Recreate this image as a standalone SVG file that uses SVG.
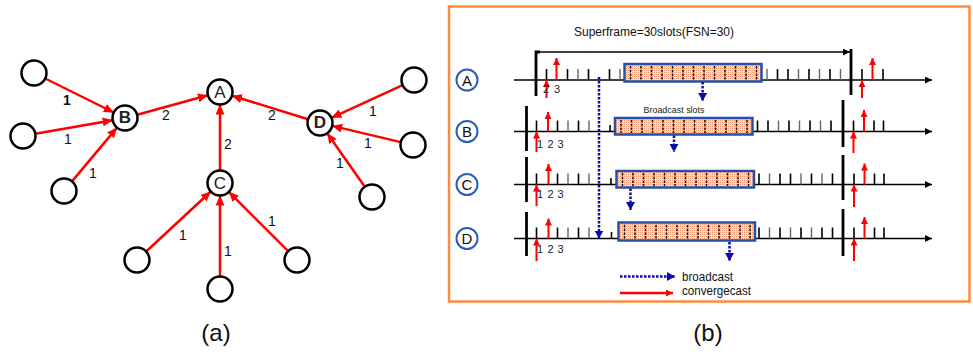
<svg xmlns="http://www.w3.org/2000/svg" width="973" height="355" viewBox="0 0 973 355">
<style>
text{font-family:"Liberation Sans",Arial,sans-serif;}
.nd{fill:#fff;stroke:#000;stroke-width:2.5;}
.ed{stroke:#f00;stroke-width:2.5;fill:none;marker-end:url(#ra);}
.el{font-size:14px;fill:#111;text-anchor:middle;}
.nl{font-size:17px;fill:#222;text-anchor:middle;}
.ax{stroke:#000;stroke-width:1.6;fill:none;marker-end:url(#ka);}
.tk{stroke:#000;stroke-width:1.6;}
.tg{stroke:#666;stroke-width:1.4;}
.thk{stroke:#000;stroke-width:2.8;}
.bt{stroke:#111;stroke-width:1.5;stroke-dasharray:2.5 1.2;}
.box{fill:url(#hatch);stroke:#2450a8;stroke-width:2.5;}
.rd{stroke:#f00;stroke-width:2;fill:none;marker-end:url(#rs);}
.bl{stroke:#0a0aa8;stroke-width:2.5;stroke-dasharray:2.5 1.5;fill:none;marker-end:url(#ba);}
.cl{fill:#fff;stroke:#2a5cb8;stroke-width:2;}
.cll{font-size:15px;fill:#111;text-anchor:middle;}
.sl{font-size:11px;fill:#223;text-anchor:middle;}
</style>
<defs>
<marker id="ra" markerUnits="userSpaceOnUse" markerWidth="11" markerHeight="9" refX="10" refY="4.5" orient="auto"><path d="M0,0 L10,4.5 L0,9 Z" fill="#f00"/></marker>
<marker id="rs" markerUnits="userSpaceOnUse" markerWidth="8" markerHeight="7" refX="7" refY="3.5" orient="auto"><path d="M0,0 L7,3.5 L0,7 Z" fill="#f00"/></marker>
<marker id="ba" markerUnits="userSpaceOnUse" markerWidth="9" markerHeight="9" refX="8" refY="4.5" orient="auto"><path d="M0,0 L8,4.5 L0,9 Z" fill="#0a0aa8"/></marker>
<marker id="ka" markerUnits="userSpaceOnUse" markerWidth="8" markerHeight="7" refX="7" refY="3.5" orient="auto"><path d="M0,0 L7,3.5 L0,7 Z" fill="#000"/></marker>
<pattern id="hatch" patternUnits="userSpaceOnUse" width="2" height="2"><rect width="2" height="2" fill="#fbdccb"/><rect width="1" height="1" fill="#ec9a76"/></pattern>
</defs>

<!-- (a) tree -->
<g id="connectors">
<line class="ed" x1="45.2" y1="78.5" x2="113.8" y2="112.5"/>
<line class="ed" x1="35.3" y1="133.8" x2="112.7" y2="120.2"/>
<line class="ed" x1="72" y1="181.4" x2="117" y2="127.6"/>
<line class="ed" x1="137.1" y1="114.7" x2="207.9" y2="95.3"/>
<line class="ed" x1="220" y1="170.5" x2="220" y2="104.5"/>
<line class="ed" x1="308.1" y1="119.3" x2="231.9" y2="95.7"/>
<line class="ed" x1="402.6" y1="85.2" x2="331.4" y2="117.8"/>
<line class="ed" x1="400.8" y1="142.1" x2="332.2" y2="125.9"/>
<line class="ed" x1="364.8" y1="186.8" x2="327.2" y2="133.2"/>
<line class="ed" x1="146.2" y1="251.5" x2="210.8" y2="191.5"/>
<line class="ed" x1="220" y1="276.5" x2="220" y2="195.5"/>
<line class="ed" x1="288.2" y1="251.2" x2="228.8" y2="191.8"/>
<text class="el" x="67" y="105" font-weight="bold">1</text>
<text class="el" x="68" y="144">1</text>
<text class="el" x="93" y="178">1</text>
<text class="el" x="166" y="120">2</text>
<text class="el" x="228" y="149">2</text>
<text class="el" x="272" y="120">2</text>
<text class="el" x="373" y="116">1</text>
<text class="el" x="368" y="148">1</text>
<text class="el" x="340" y="168">1</text>
<text class="el" x="183" y="240">1</text>
<text class="el" x="228" y="256">1</text>
<text class="el" x="272" y="226">1</text>
</g>
<g id="nodeA"><circle class="nd" cx="220" cy="92" r="12.5"/><text class="nl" x="220" y="98">A</text></g>
<g id="nodeB"><circle class="nd" cx="125" cy="118" r="12.5"/><text class="nl" x="125" y="123" font-size="13" font-weight="bold">B</text></g>
<g id="nodeC"><circle class="nd" cx="220" cy="183" r="12.5"/><text class="nl" x="220" y="189">C</text></g>
<g id="nodeD"><circle class="nd" cx="320" cy="123" r="12.5"/><text class="nl" x="320" y="128" font-size="14" font-weight="bold">D</text></g>
<g id="leafB1"><circle class="nd" cx="34" cy="73" r="12.5"/></g>
<g id="leafB2"><circle class="nd" cx="23" cy="136" r="12.5"/></g>
<g id="leafB3"><circle class="nd" cx="64" cy="191" r="12.5"/></g>
<g id="leafD1"><circle class="nd" cx="414" cy="80" r="12.5"/></g>
<g id="leafD2"><circle class="nd" cx="413" cy="145" r="12.5"/></g>
<g id="leafD3"><circle class="nd" cx="372" cy="197" r="12.5"/></g>
<g id="leafC1"><circle class="nd" cx="137" cy="260" r="12.5"/></g>
<g id="leafC2"><circle class="nd" cx="220" cy="289" r="12.5"/></g>
<g id="leafC3"><circle class="nd" cx="297" cy="260" r="12.5"/></g>
<text x="216" y="341" font-size="24" text-anchor="middle" fill="#111">(a)</text>

<!-- (b) timeline -->
<rect x="449" y="6.5" width="520.5" height="295" fill="none" stroke="#ff8a3d" stroke-width="2.5"/>
<text x="654" y="36" font-size="12" text-anchor="middle" textLength="160" lengthAdjust="spacingAndGlyphs" fill="#111">Superframe=30slots(FSN=30)</text>
<path d="M536,96 V52 H540" class="thk" fill="none"/>
<line x1="540" y1="52" x2="850" y2="52" stroke="#000" stroke-width="1.3" marker-end="url(#ka)"/>

<g id="rowA">
<circle class="cl" cx="467" cy="80" r="10.5"/><text class="cll" x="467" y="85.5">A</text>
<line class="ax" x1="514" y1="80" x2="932" y2="80"/>
<g>
<line class="tk" x1="546.5" y1="69" x2="546.5" y2="80"/><line class="tk" x1="567.5" y1="69" x2="567.5" y2="80"/><line class="tg" x1="578" y1="69" x2="578" y2="80"/><line class="tk" x1="588.5" y1="69" x2="588.5" y2="80"/><line class="tk" x1="609.5" y1="69" x2="609.5" y2="80"/><line class="tg" x1="620" y1="69" x2="620" y2="80"/>
<line class="tg" x1="767" y1="69" x2="767" y2="80"/><line class="tk" x1="777.5" y1="69" x2="777.5" y2="80"/><line class="tk" x1="788" y1="69" x2="788" y2="80"/><line class="tg" x1="798.5" y1="69" x2="798.5" y2="80"/><line class="tk" x1="809" y1="69" x2="809" y2="80"/><line class="tg" x1="819.5" y1="69" x2="819.5" y2="80"/><line class="tk" x1="830" y1="69" x2="830" y2="80"/><line class="tg" x1="840.5" y1="69" x2="840.5" y2="80"/>
<line class="tk" x1="862" y1="69" x2="862" y2="80"/><line class="tk" x1="883" y1="69" x2="883" y2="80"/>
</g>
<rect class="box" x="624.5" y="64" width="137" height="17.5"/>
<g>
<line class="bt" x1="630.5" y1="66" x2="630.5" y2="80"/><line class="bt" x1="641" y1="66" x2="641" y2="80"/><line class="bt" x1="651.5" y1="66" x2="651.5" y2="80"/><line class="bt" x1="662" y1="66" x2="662" y2="80"/><line class="bt" x1="672.5" y1="66" x2="672.5" y2="80"/><line class="bt" x1="683" y1="66" x2="683" y2="80"/><line class="bt" x1="693.5" y1="66" x2="693.5" y2="80"/><line class="bt" x1="704" y1="66" x2="704" y2="80"/><line class="bt" x1="714.5" y1="66" x2="714.5" y2="80"/><line class="bt" x1="725" y1="66" x2="725" y2="80"/><line class="bt" x1="735.5" y1="66" x2="735.5" y2="80"/><line class="bt" x1="746" y1="66" x2="746" y2="80"/><line class="bt" x1="756.5" y1="66" x2="756.5" y2="80"/>
</g>
<line class="thk" x1="851" y1="49" x2="851" y2="95"/>
<line class="rd" x1="546.5" y1="98" x2="546.5" y2="80"/>
<line class="rd" x1="556.5" y1="80" x2="556.5" y2="58"/>
<line class="rd" x1="862" y1="98" x2="862" y2="80"/>
<line class="rd" x1="872.5" y1="80" x2="872.5" y2="58"/>
<text class="sl" x="546" y="92.5">2</text><text class="sl" x="557" y="92.5">3</text>
<line class="bl" x1="702.6" y1="82" x2="702.6" y2="101"/>
</g>

<text x="674" y="113" font-size="9.5" text-anchor="middle" textLength="61" lengthAdjust="spacingAndGlyphs" fill="#222">Broadcast slots</text>

<g id="rowB">
<circle class="cl" cx="467" cy="131.5" r="10.5"/><text class="cll" x="467" y="137">B</text>
<line class="ax" x1="514" y1="131.5" x2="932" y2="131.5"/>
<g>
<line class="tk" x1="536.5" y1="120.5" x2="536.5" y2="131.5"/><line class="tk" x1="557.5" y1="120.5" x2="557.5" y2="131.5"/><line class="tg" x1="568" y1="120.5" x2="568" y2="131.5"/><line class="tk" x1="578.5" y1="120.5" x2="578.5" y2="131.5"/><line class="tg" x1="589" y1="120.5" x2="589" y2="131.5"/><line class="tk" x1="610" y1="125" x2="610" y2="131.5"/>
<line class="tk" x1="757.5" y1="120.5" x2="757.5" y2="131.5"/><line class="tk" x1="768" y1="120.5" x2="768" y2="131.5"/><line class="tg" x1="778.5" y1="120.5" x2="778.5" y2="131.5"/><line class="tk" x1="789" y1="120.5" x2="789" y2="131.5"/><line class="tg" x1="799.5" y1="120.5" x2="799.5" y2="131.5"/><line class="tk" x1="810" y1="120.5" x2="810" y2="131.5"/><line class="tg" x1="820.5" y1="120.5" x2="820.5" y2="131.5"/><line class="tk" x1="831" y1="120.5" x2="831" y2="131.5"/>
<line class="tk" x1="853.5" y1="120.5" x2="853.5" y2="131.5"/><line class="tk" x1="874" y1="120.5" x2="874" y2="131.5"/><line class="tk" x1="883.5" y1="120.5" x2="883.5" y2="131.5"/>
</g>
<rect class="box" x="615" y="118" width="137.5" height="16.5"/>
<g>
<line class="bt" x1="621" y1="120" x2="621" y2="133"/><line class="bt" x1="631.5" y1="120" x2="631.5" y2="133"/><line class="bt" x1="642" y1="120" x2="642" y2="133"/><line class="bt" x1="652.5" y1="120" x2="652.5" y2="133"/><line class="bt" x1="663" y1="120" x2="663" y2="133"/><line class="bt" x1="673.5" y1="120" x2="673.5" y2="133"/><line class="bt" x1="684" y1="120" x2="684" y2="133"/><line class="bt" x1="694.5" y1="120" x2="694.5" y2="133"/><line class="bt" x1="705" y1="120" x2="705" y2="133"/><line class="bt" x1="715.5" y1="120" x2="715.5" y2="133"/><line class="bt" x1="726" y1="120" x2="726" y2="133"/><line class="bt" x1="736.5" y1="120" x2="736.5" y2="133"/><line class="bt" x1="747" y1="120" x2="747" y2="133"/>
</g>
<line class="thk" x1="526.5" y1="106" x2="526.5" y2="151"/>
<line class="thk" x1="843" y1="100" x2="843" y2="147"/>
<line class="rd" x1="536.5" y1="152" x2="536.5" y2="131.5"/>
<line class="rd" x1="548" y1="131.5" x2="548" y2="112"/>
<line class="rd" x1="853.5" y1="153" x2="853.5" y2="131.5"/>
<line class="rd" x1="864" y1="131.5" x2="864" y2="110"/>
<text class="sl" x="540" y="147.5">1</text><text class="sl" x="550.5" y="147.5">2</text><text class="sl" x="560.5" y="147.5">3</text>
<line class="bl" x1="674" y1="135.5" x2="674" y2="152"/>
</g>

<g id="rowC">
<circle class="cl" cx="467" cy="184.5" r="10.5"/><text class="cll" x="467" y="190">C</text>
<line class="ax" x1="514" y1="184.5" x2="932" y2="184.5"/>
<g>
<line class="tk" x1="536.5" y1="173.5" x2="536.5" y2="184.5"/><line class="tk" x1="557.5" y1="173.5" x2="557.5" y2="184.5"/><line class="tg" x1="568" y1="173.5" x2="568" y2="184.5"/><line class="tk" x1="578.5" y1="173.5" x2="578.5" y2="184.5"/><line class="tg" x1="589" y1="173.5" x2="589" y2="184.5"/><line class="tk" x1="611" y1="178" x2="611" y2="184.5"/>
<line class="tk" x1="759" y1="173.5" x2="759" y2="184.5"/><line class="tg" x1="769.5" y1="173.5" x2="769.5" y2="184.5"/><line class="tk" x1="780" y1="173.5" x2="780" y2="184.5"/><line class="tk" x1="790.5" y1="173.5" x2="790.5" y2="184.5"/><line class="tg" x1="801" y1="173.5" x2="801" y2="184.5"/><line class="tk" x1="811.5" y1="173.5" x2="811.5" y2="184.5"/><line class="tg" x1="822" y1="173.5" x2="822" y2="184.5"/><line class="tk" x1="832.5" y1="173.5" x2="832.5" y2="184.5"/>
<line class="tk" x1="854" y1="173.5" x2="854" y2="184.5"/><line class="tk" x1="874.5" y1="173.5" x2="874.5" y2="184.5"/><line class="tk" x1="884" y1="173.5" x2="884" y2="184.5"/>
</g>
<rect class="box" x="616.5" y="171" width="137.5" height="16.5"/>
<g>
<line class="bt" x1="622.5" y1="173" x2="622.5" y2="186"/><line class="bt" x1="633" y1="173" x2="633" y2="186"/><line class="bt" x1="643.5" y1="173" x2="643.5" y2="186"/><line class="bt" x1="654" y1="173" x2="654" y2="186"/><line class="bt" x1="664.5" y1="173" x2="664.5" y2="186"/><line class="bt" x1="675" y1="173" x2="675" y2="186"/><line class="bt" x1="685.5" y1="173" x2="685.5" y2="186"/><line class="bt" x1="696" y1="173" x2="696" y2="186"/><line class="bt" x1="706.5" y1="173" x2="706.5" y2="186"/><line class="bt" x1="717" y1="173" x2="717" y2="186"/><line class="bt" x1="727.5" y1="173" x2="727.5" y2="186"/><line class="bt" x1="738" y1="173" x2="738" y2="186"/><line class="bt" x1="748.5" y1="173" x2="748.5" y2="186"/>
</g>
<line class="thk" x1="526.5" y1="157" x2="526.5" y2="202"/>
<line class="thk" x1="843" y1="155" x2="843" y2="200"/>
<line class="rd" x1="536.5" y1="206" x2="536.5" y2="184.5"/>
<line class="rd" x1="548.5" y1="184.5" x2="548.5" y2="164"/>
<line class="rd" x1="854" y1="207" x2="854" y2="184.5"/>
<line class="rd" x1="864.5" y1="184.5" x2="864.5" y2="163.5"/>
<text class="sl" x="540" y="198">1</text><text class="sl" x="550.5" y="198">2</text><text class="sl" x="560.5" y="198">3</text>
<line class="bl" x1="630.5" y1="188.5" x2="630.5" y2="210"/>
</g>

<g id="rowD">
<circle class="cl" cx="467" cy="238.5" r="10.5"/><text class="cll" x="467" y="244">D</text>
<line class="ax" x1="514" y1="238.5" x2="932" y2="238.5"/>
<g>
<line class="tk" x1="536.5" y1="227.5" x2="536.5" y2="238.5"/><line class="tk" x1="557.5" y1="227.5" x2="557.5" y2="238.5"/><line class="tg" x1="568" y1="227.5" x2="568" y2="238.5"/><line class="tk" x1="578.5" y1="227.5" x2="578.5" y2="238.5"/><line class="tg" x1="589" y1="227.5" x2="589" y2="238.5"/><line class="tk" x1="611.5" y1="232" x2="611.5" y2="238.5"/>
<line class="tk" x1="759" y1="227.5" x2="759" y2="238.5"/><line class="tg" x1="769.5" y1="227.5" x2="769.5" y2="238.5"/><line class="tk" x1="780" y1="227.5" x2="780" y2="238.5"/><line class="tg" x1="790.5" y1="227.5" x2="790.5" y2="238.5"/><line class="tk" x1="801" y1="227.5" x2="801" y2="238.5"/><line class="tg" x1="811.5" y1="227.5" x2="811.5" y2="238.5"/><line class="tk" x1="822" y1="227.5" x2="822" y2="238.5"/><line class="tk" x1="832.5" y1="227.5" x2="832.5" y2="238.5"/>
<line class="tk" x1="854" y1="227.5" x2="854" y2="238.5"/><line class="tk" x1="874.5" y1="227.5" x2="874.5" y2="238.5"/><line class="tk" x1="884" y1="227.5" x2="884" y2="238.5"/>
</g>
<rect class="box" x="618.5" y="222.5" width="136.5" height="18"/>
<g>
<line class="bt" x1="624.5" y1="225" x2="624.5" y2="239"/><line class="bt" x1="635" y1="225" x2="635" y2="239"/><line class="bt" x1="645.5" y1="225" x2="645.5" y2="239"/><line class="bt" x1="656" y1="225" x2="656" y2="239"/><line class="bt" x1="666.5" y1="225" x2="666.5" y2="239"/><line class="bt" x1="677" y1="225" x2="677" y2="239"/><line class="bt" x1="687.5" y1="225" x2="687.5" y2="239"/><line class="bt" x1="698" y1="225" x2="698" y2="239"/><line class="bt" x1="708.5" y1="225" x2="708.5" y2="239"/><line class="bt" x1="719" y1="225" x2="719" y2="239"/><line class="bt" x1="729.5" y1="225" x2="729.5" y2="239"/><line class="bt" x1="740" y1="225" x2="740" y2="239"/><line class="bt" x1="750" y1="225" x2="750" y2="239"/>
</g>
<line class="thk" x1="526.5" y1="212" x2="526.5" y2="256"/>
<line class="thk" x1="843" y1="209" x2="843" y2="256"/>
<line class="rd" x1="536.5" y1="261" x2="536.5" y2="238.5"/>
<line class="rd" x1="548.5" y1="238.5" x2="548.5" y2="218.5"/>
<line class="rd" x1="854" y1="261" x2="854" y2="238.5"/>
<line class="rd" x1="864.5" y1="238.5" x2="864.5" y2="217"/>
<text class="sl" x="540" y="252.5">1</text><text class="sl" x="550.5" y="252.5">2</text><text class="sl" x="560.5" y="252.5">3</text>
<line class="bl" x1="729.5" y1="242" x2="729.5" y2="261"/>
</g>

<line class="bl" x1="599" y1="77" x2="599" y2="238.5"/>

<g id="legend">
<line class="bl" x1="620" y1="276.5" x2="675" y2="276.5"/>
<text x="682" y="281" font-size="13" textLength="51" lengthAdjust="spacingAndGlyphs" fill="#111">broadcast</text>
<line x1="620" y1="293" x2="673" y2="293" stroke="#f00" stroke-width="2.5" marker-end="url(#rs)"/>
<text x="682" y="294.5" font-size="13" textLength="69" lengthAdjust="spacingAndGlyphs" fill="#111">convergecast</text>
</g>
<text x="708" y="341" font-size="24" text-anchor="middle" fill="#111">(b)</text>
</svg>
